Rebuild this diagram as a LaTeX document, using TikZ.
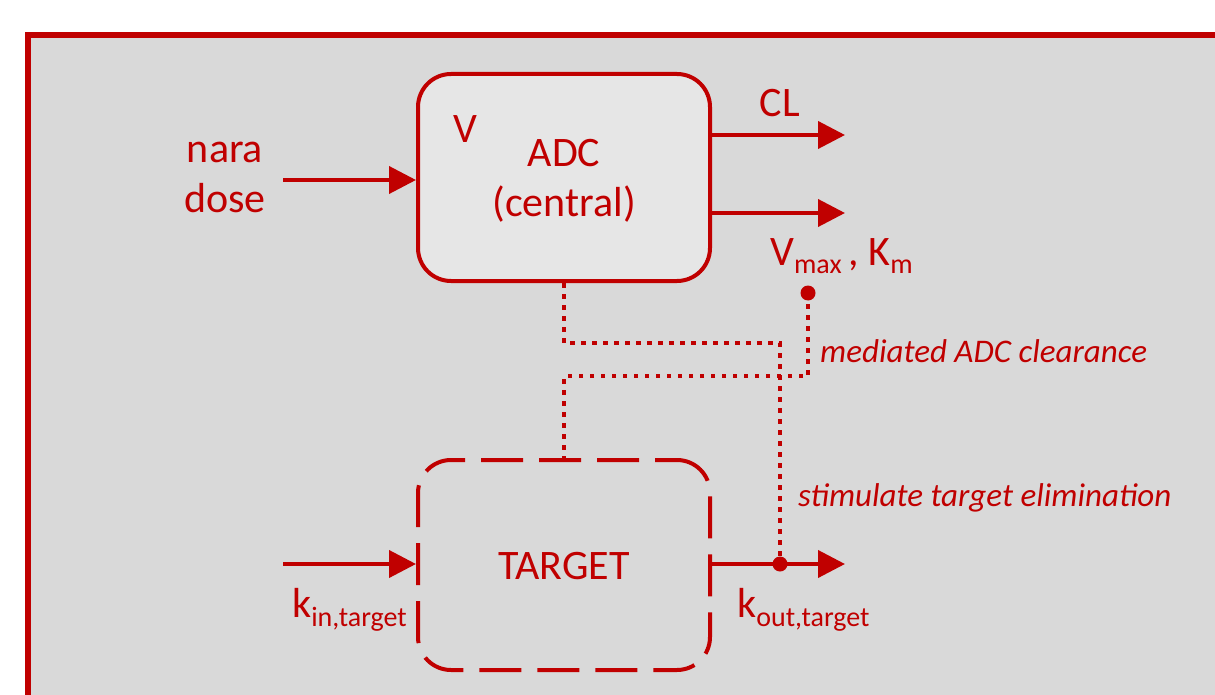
\documentclass[tikz,border=0pt]{standalone}
\usepackage{fontspec}
\setmainfont{Carlito}
\usetikzlibrary{arrows.meta}
\definecolor{dred}{HTML}{C00000}
\definecolor{bggray}{HTML}{D9D9D9}
\definecolor{boxgray}{HTML}{E6E6E6}
\newcommand\lsub[1]{\raisebox{-9pt}{\fontsize{28}{28}\selectfont #1}}
\begin{document}
\begin{tikzpicture}[x=1pt,y=-1pt,
  flow/.style={draw=dred, line width=4pt, -{Triangle[length=27pt,width=27pt]}},
  link/.style={draw=dred, line width=4.5pt, dash pattern=on 4.5pt off 6.5pt},
  big/.style={text=dred, font=\fontsize{42}{51}\selectfont, inner sep=0pt},
  note/.style={text=dred, font=\fontsize{33}{40}\selectfont\itshape, inner sep=0pt, anchor=base west},
  dotn/.style={circle, fill=dred, inner sep=0pt, minimum size=15pt},
  comp/.style={rectangle, rounded corners=33pt, draw=dred, line width=4pt, minimum width=292pt, inner sep=0pt}]
\useasboundingbox (0,0) rectangle (1215,695);
\clip (0,0) rectangle (1215,695);
\draw[dred, line width=6pt, fill=bggray] (28,35) rectangle (1240,720);

\node[comp, fill=boxgray, minimum height=207pt] (adc) at (564,177.5) {};
\node[comp, minimum height=210pt, dash pattern=on 42pt off 16pt, dash phase=20pt] (tgt) at (564,565) {};

% flows
\coordinate (doseIn) at (283,180);
\coordinate (clEnd) at (845,135);
\coordinate (mmEnd) at (845,213);
\coordinate (kinStart) at (283,564);
\coordinate (koutEnd) at (845,564);
\draw[flow] (doseIn) -- (adc.west |- doseIn);
\draw[flow] (adc.east |- clEnd) -- (clEnd);
\draw[flow] (adc.east |- mmEnd) -- (mmEnd);
\draw[flow] (kinStart) -- (tgt.west |- kinStart);
\draw[flow] (tgt.east |- koutEnd) -- (koutEnd);

\node[dotn] (kdot) at (780,564) {};
\node[dotn] (vdot) at (808,293) {};

% dotted links
\draw[link] (adc.south) -- ++(0,60) -| (kdot.center);
\draw[link] (vdot.center) -- ++(0,83) -| (tgt.north);

% labels
\node[big, anchor=base, align=center] (dose) at (225,213) {nara\\dose};
\node[big, anchor=base west] (vlab) at (453,143) {V};
\node[big, anchor=base, align=center] (adclab) at (564,217) {ADC\\(central)};
\node[big, anchor=base] (cl) at (780,117) {CL};
\node[big, anchor=base west] (vmax) at (770,265) {V\lsub{max}\,, K\lsub{m}};
\node[big, anchor=base] (tgtlab) at (564,579) {TARGET};
\node[big, anchor=base west] (kin) at (292,617) {k\lsub{in,target}};
\node[big, anchor=base west] (kout) at (737,617) {k\lsub{out,target}};
\node[note] (med) at (820,362) {mediated ADC clearance};
\node[note] (stim) at (798,506) {stimulate target elimination};
\end{tikzpicture}
\end{document}
